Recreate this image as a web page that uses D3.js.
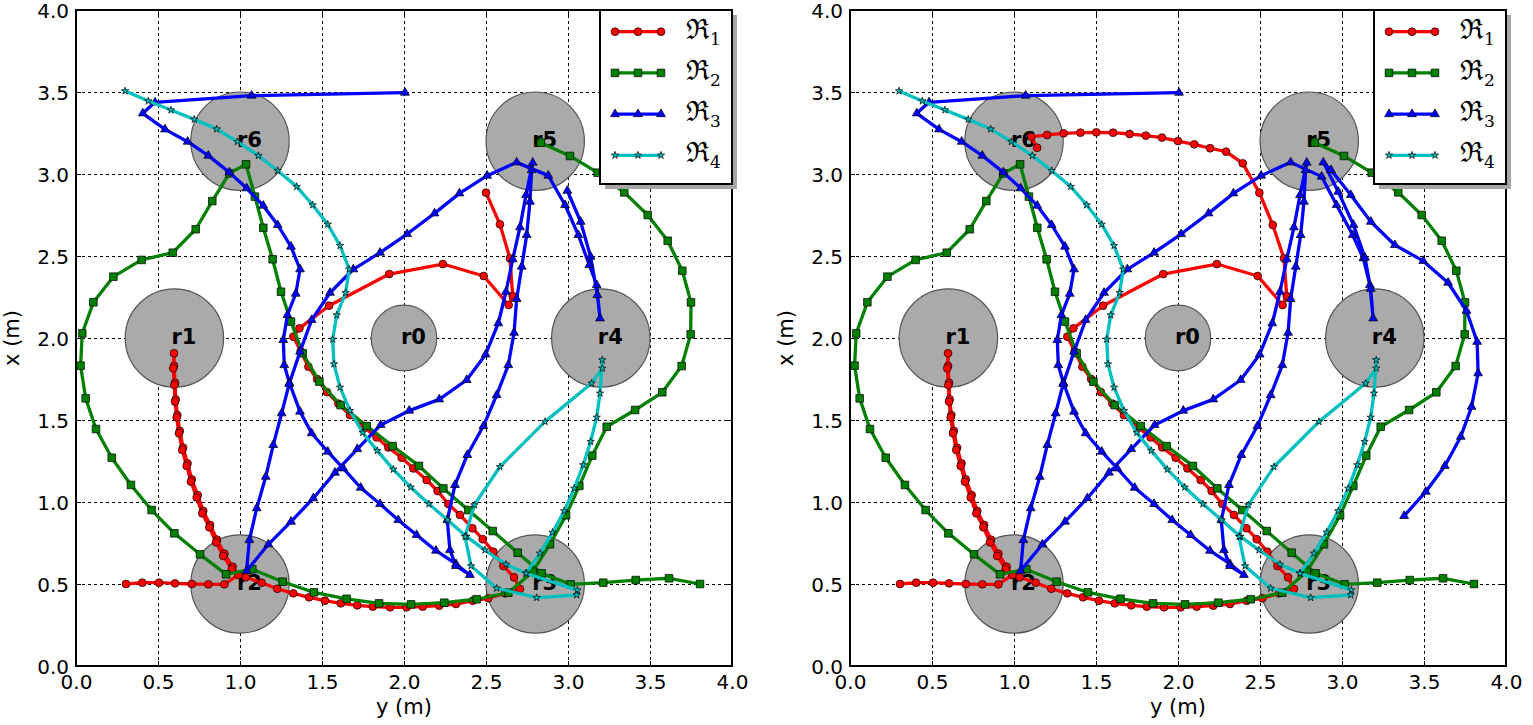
<!DOCTYPE html>
<html><head><meta charset="utf-8">
<script src="https://cdnjs.cloudflare.com/ajax/libs/d3/7.8.5/d3.min.js"></script>
<style>
html,body{margin:0;padding:0;background:#fff;}
svg{display:block;}
</style></head>
<body>
<svg id="chart" width="1533" height="725"></svg>
<script>
// ---------------- data (horizontal "y (m)", vertical "x (m)") ----------------
const tickValues = [0, 0.5, 1.0, 1.5, 2.0, 2.5, 3.0, 3.5, 4.0];
const tickLabels = ["0.0","0.5","1.0","1.5","2.0","2.5","3.0","3.5","4.0"];

const regionNames = ["r0","r1","r2","r3","r4","r5","r6"];
const regionY = [2.0, 0.6, 1.0, 2.8, 3.2, 2.8, 1.0];
const regionX = [2.0, 2.0, 0.5, 0.5, 2.0, 3.2, 3.2];
const regionR = [0.2, 0.3, 0.3, 0.3, 0.3, 0.3, 0.3];

const seriesNames = ["1","2","3","4"];

// R1 (red)
const r1Common = [
 [0.305,0.5],[0.404,0.508],[0.506,0.508],[0.604,0.504],[0.706,0.5],[0.807,0.498],[0.905,0.498],[0.99,0.555],
 [0.955,0.605],[0.905,0.685],[0.86,0.77],[0.818,0.86],[0.776,0.945],[0.742,1.042],[0.706,1.138],[0.68,1.235],
 [0.653,1.331],[0.633,1.433],[0.618,1.53],[0.608,1.626],[0.604,1.727],[0.598,1.83],[0.598,1.907],
 [0.593,1.815],[0.6,1.713],[0.604,1.612],[0.614,1.516],[0.628,1.419],[0.648,1.317],[0.675,1.22],[0.701,1.124],
 [0.736,1.028],[0.77,0.931],[0.813,0.846],[0.854,0.754],[0.898,0.671],[0.949,0.59],
 [1.035,0.541],[1.132,0.508],[1.227,0.471],[1.325,0.443],[1.421,0.419],[1.518,0.398],[1.614,0.382],[1.715,0.37],
 [1.81,0.362],[1.915,0.358],[2.016,0.358],[2.114,0.362],[2.215,0.368],[2.317,0.378],[2.419,0.398],[2.514,0.413],
 [2.616,0.443],[2.707,0.47],
 [2.671,0.541],[2.606,0.61],[2.545,0.697],[2.48,0.773],[2.417,0.84],[2.341,0.921],[2.27,0.988],[2.205,1.067],
 [2.138,1.134],[2.057,1.205],[1.986,1.27],[1.904,1.333],[1.833,1.394],[1.75,1.46],[1.67,1.53],[1.6,1.6],
 [1.53,1.67],[1.47,1.75],[1.417,1.825],[1.37,1.92],[1.325,2.008],[1.362,2.059],[1.543,2.197],[1.91,2.39],
 [2.237,2.451],[2.486,2.378],[2.638,2.201],[2.663,2.256],[2.646,2.486]
];
const r1LeftTail = [[2.585,2.693],[2.5,2.886]];
const r1RightTail = [[2.578,2.689],[2.496,2.886],[2.395,3.065],[2.293,3.136],[2.196,3.157],[2.099,3.181],[2.0,3.201],
 [1.902,3.222],[1.804,3.234],[1.705,3.244],[1.604,3.252],[1.502,3.254],[1.405,3.252],[1.303,3.248],[1.202,3.238],
 [1.106,3.227],[1.141,3.16]];

// R2 (green)
const r2Path = [
 [3.805,0.5],[3.616,0.535],[3.413,0.524],[3.215,0.508],[3.016,0.498],[2.839,0.565],[2.693,0.691],[2.541,0.823],
 [2.392,0.951],[2.24,1.083],[2.091,1.22],[1.931,1.341],[1.773,1.463],[1.614,1.591],[1.484,1.734],[1.382,1.907],
 [1.311,2.1],[1.25,2.282],[1.199,2.48],[1.142,2.672],[1.091,2.862],[1.037,3.059],[0.935,3.004],[0.831,2.835],
 [0.73,2.663],[0.59,2.52],[0.4,2.476],[0.228,2.374],[0.106,2.218],[0.038,2.028],[0.028,1.831],[0.059,1.632],
 [0.122,1.445],[0.218,1.27],[0.335,1.104],[0.461,0.951],[0.6,0.809],[0.756,0.681],[0.915,0.559],[1.075,0.59],
 [1.26,0.514],[1.451,0.449],[1.65,0.41],[1.848,0.382],[2.043,0.376],[2.246,0.386],[2.443,0.407],[2.636,0.447],
 [2.785,0.575],[2.89,0.742],[2.988,0.919],[3.069,1.098],[3.148,1.283],[3.236,1.459],[3.409,1.561],[3.575,1.669],
 [3.693,1.829],[3.748,2.022],[3.75,2.217],[3.697,2.41],[3.608,2.593],[3.486,2.75],[3.343,2.888],[3.181,3.008],
 [3.012,3.11],[2.834,3.191]
];

// R3 (blue)
const r3Common = [
 [2.006,3.496],[1.071,3.478],[0.482,3.437],[0.407,3.37],[0.543,3.272],[0.681,3.197],[0.807,3.112],[0.935,3.01],
 [1.041,2.913],[1.142,2.807],[1.23,2.689],[1.311,2.557],[1.366,2.419],[1.34,2.27],[1.289,2.14],[1.264,1.988],
 [1.27,1.835],[1.301,1.727],[1.366,1.551],[1.437,1.419],[1.535,1.307],[1.63,1.205],[1.736,1.087],[1.854,0.988],
 [1.965,0.89],[2.077,0.799],[2.195,0.703],[2.317,0.622],[2.402,0.555],
 [2.317,0.61],[2.28,0.707],[2.264,0.89],[2.311,1.104],[2.386,1.287],[2.484,1.463],[2.565,1.652],[2.636,1.835],
 [2.671,2.032],[2.687,2.238],[2.718,2.435],[2.748,2.628],[2.768,2.831],[2.778,3.024],[2.785,3.069],
 [2.744,2.872],[2.707,2.675],[2.663,2.48],[2.622,2.282],[2.575,2.09],[2.498,1.9],[2.382,1.744],[2.215,1.626],
 [2.032,1.557],[1.858,1.47],[1.715,1.323],[1.579,1.179],[1.447,1.023],[1.311,0.88],[1.173,0.742],[1.04,0.58],
 [1.057,0.768],[1.102,0.962],[1.157,1.154],[1.203,1.348],[1.254,1.541],[1.3,1.72],[1.366,1.917],[1.437,2.11],
 [1.549,2.276],[1.691,2.419],[1.854,2.52],[2.019,2.634],[2.186,2.76],[2.338,2.882],[2.507,2.99],[2.687,3.071]
];
const r3LeftTail = [[2.88,2.99],[2.982,2.811],[3.063,2.628],[3.13,2.445],[3.175,2.323],[3.195,2.12],[3.179,2.262],
 [3.138,2.496],[3.077,2.709],[2.996,2.898]];
const r3RightTail = [[2.876,2.984],[2.967,2.811],[3.065,2.628],[3.13,2.486],[3.17,2.323],[3.19,2.12],[3.175,2.3],
 [3.14,2.49],[3.07,2.69],[2.977,2.892],[2.886,3.071],[2.933,3.024],[3.054,2.872],[3.176,2.709],[3.322,2.567],
 [3.495,2.47],[3.647,2.337],[3.759,2.166],[3.824,1.977],[3.83,1.785],[3.79,1.581],[3.724,1.398],[3.627,1.22],
 [3.511,1.063],[3.379,0.915]];

// R4 (cyan)
const r4Path = [
 [0.299,3.506],[0.441,3.445],[0.579,3.39],[0.721,3.333],[0.858,3.274],[0.984,3.197],[1.112,3.112],[1.23,3.02],
 [1.346,2.923],[1.443,2.811],[1.535,2.693],[1.61,2.563],[1.666,2.419],[1.644,2.276],[1.59,2.14],[1.565,1.992],
 [1.573,1.841],[1.61,1.699],[1.671,1.557],[1.748,1.423],[1.837,1.313],[1.935,1.199],[2.041,1.09],[2.152,0.988],
 [2.266,0.89],[2.38,0.79],[2.494,0.707],[2.622,0.62],[2.744,0.565],[3.057,0.463],[3.053,0.433],[2.809,0.417],
 [2.565,0.474],[2.409,0.61],[2.372,0.789],[2.429,0.982],[2.585,1.215],[2.86,1.49],[3.144,1.724],[3.209,1.815],
 [3.209,1.866],[3.195,1.663],[3.175,1.516],[3.138,1.368],[3.093,1.226],[3.038,1.083],[2.977,0.945],[2.906,0.815],
 [2.829,0.687],[2.744,0.565]
];

// ---------------- drawing ----------------
const svg = d3.select("#chart");
const Y_TOP = 10, Y_BOT = 666;
const colors = ["#ff0000", "#008000", "#0000ff", "#00bfbf"];
const symbols = [d3.symbolCircle, d3.symbolSquare, d3.symbolTriangle, d3.symbolStar];
const symSizes = [48, 58, 34, 17];

function drawPanel(x0, x1, series) {
  const x = d3.scaleLinear().domain([0, 4]).range([x0, x1]);
  const y = d3.scaleLinear().domain([0, 4]).range([Y_BOT, Y_TOP]);
  const W = x1 - x0, H = Y_BOT - Y_TOP;
  const g = svg.append("g");

  // grid
  const gridX = g.append("g").attr("transform", `translate(0,${Y_BOT})`)
    .call(d3.axisBottom(x).tickValues(tickValues).tickSize(-H).tickFormat(""));
  const gridY = g.append("g").attr("transform", `translate(${x0},0)`)
    .call(d3.axisLeft(y).tickValues(tickValues).tickSize(-W).tickFormat(""));
  [gridX, gridY].forEach(a => {
    a.select(".domain").remove();
    a.selectAll("line").attr("stroke", "#000").attr("stroke-width", 1).attr("stroke-dasharray", "3,3");
  });

  // regions
  const reg = g.append("g");
  regionNames.forEach((n, i) => {
    reg.append("circle").attr("cx", x(regionY[i])).attr("cy", y(regionX[i]))
      .attr("r", x(regionR[i]) - x(0)).attr("fill", "#aaaaaa").attr("stroke", "#555").attr("stroke-width", 1.2);
  });
  regionNames.forEach((n, i) => {
    reg.append("text").attr("x", x(regionY[i]) - 3).attr("y", y(regionX[i]) + 6)
      .attr("font-family", "DejaVu Sans").attr("font-weight", "bold").attr("font-size", 21).text(n);
  });

  // trajectories
  const line = d3.line().x(d => x(d[0])).y(d => y(d[1]));
  series.forEach((pts, k) => {
    const sg = g.append("g");
    sg.append("path").attr("d", line(pts)).attr("fill", "none").attr("stroke", colors[k])
      .attr("stroke-width", 3.3).attr("stroke-linejoin", "round").attr("stroke-linecap", "round");
    sg.selectAll("path.m").data(pts).enter().append("path").attr("class", "m")
      .attr("d", d3.symbol().type(symbols[k]).size(symSizes[k]))
      .attr("transform", d => `translate(${x(d[0])},${y(d[1])})`)
      .attr("fill", colors[k]).attr("stroke", "#000").attr("stroke-width", 0.7);
  });

  // axes with inward ticks
  const fmt = (d) => tickLabels[tickValues.indexOf(d)];
  const ab = g.append("g").attr("transform", `translate(0,${Y_BOT})`)
    .call(d3.axisBottom(x).tickValues(tickValues).tickFormat(fmt).tickSizeInner(-5).tickSizeOuter(0).tickPadding(9));
  const al = g.append("g").attr("transform", `translate(${x0},0)`)
    .call(d3.axisLeft(y).tickValues(tickValues).tickFormat(fmt).tickSizeInner(-5).tickSizeOuter(0).tickPadding(7));
  const at = g.append("g").attr("transform", `translate(0,${Y_TOP})`)
    .call(d3.axisTop(x).tickValues(tickValues).tickFormat("").tickSizeInner(-5).tickSizeOuter(0));
  const ar = g.append("g").attr("transform", `translate(${x1},0)`)
    .call(d3.axisRight(y).tickValues(tickValues).tickFormat("").tickSizeInner(-5).tickSizeOuter(0));
  [ab, al, at, ar].forEach(a => {
    a.select(".domain").remove();
    a.selectAll("line").attr("stroke", "#000").attr("stroke-width", 1);
    a.selectAll("text").attr("font-family", "DejaVu Sans").attr("font-size", 20).attr("fill", "#000");
  });
  al.selectAll("text").attr("dy", "0.36em");

  // frame
  g.append("rect").attr("x", x0).attr("y", Y_TOP).attr("width", W).attr("height", H)
    .attr("fill", "none").attr("stroke", "#000").attr("stroke-width", 2);

  // axis labels
  g.append("text").attr("x", (x0 + x1) / 2).attr("y", 714).attr("text-anchor", "middle")
    .attr("font-family", "DejaVu Sans").attr("font-size", 21).text("y (m)");
  g.append("text").attr("transform", `translate(${x0 - 57},${(Y_TOP + Y_BOT) / 2}) rotate(-90)`)
    .attr("text-anchor", "middle").attr("font-family", "DejaVu Sans").attr("font-size", 21).text("x (m)");

  // legend
  const lw = 132, lh = 174, lx = x1 - lw, ly = Y_TOP;
  const lg = g.append("g");
  lg.append("rect").attr("x", lx + 5).attr("y", ly + 5).attr("width", lw).attr("height", lh).attr("fill", "#a6a6a6");
  lg.append("rect").attr("x", lx).attr("y", ly).attr("width", lw).attr("height", lh)
    .attr("fill", "#fff").attr("stroke", "#000").attr("stroke-width", 2);
  seriesNames.forEach((n, k) => {
    const cy = ly + 21.7 + k * 41.2;
    const sx0 = lx + 15, sx1 = lx + 61;
    lg.append("line").attr("x1", sx0).attr("x2", sx1).attr("y1", cy).attr("y2", cy)
      .attr("stroke", colors[k]).attr("stroke-width", 3.3);
    [sx0, (sx0 + sx1) / 2, sx1].forEach(px => {
      lg.append("path").attr("d", d3.symbol().type(symbols[k]).size(symSizes[k])())
        .attr("transform", `translate(${px},${cy})`).attr("fill", colors[k]).attr("stroke", "#000").attr("stroke-width", 0.7);
    });
    const t = lg.append("text").attr("x", lx + 86).attr("y", cy + 7)
      .attr("font-family", "DejaVu Serif").attr("font-size", 28).attr("fill", "#000");
    t.append("tspan").text("\u211C");
    t.append("tspan").attr("font-size", 17).attr("dy", 6).text(n);
  });
}

drawPanel(76, 732, [r1Common.concat(r1LeftTail), r2Path, r3Common.concat(r3LeftTail), r4Path]);
drawPanel(850, 1506, [r1Common.concat(r1RightTail), r2Path, r3Common.concat(r3RightTail), r4Path]);
</script>
</body></html>
